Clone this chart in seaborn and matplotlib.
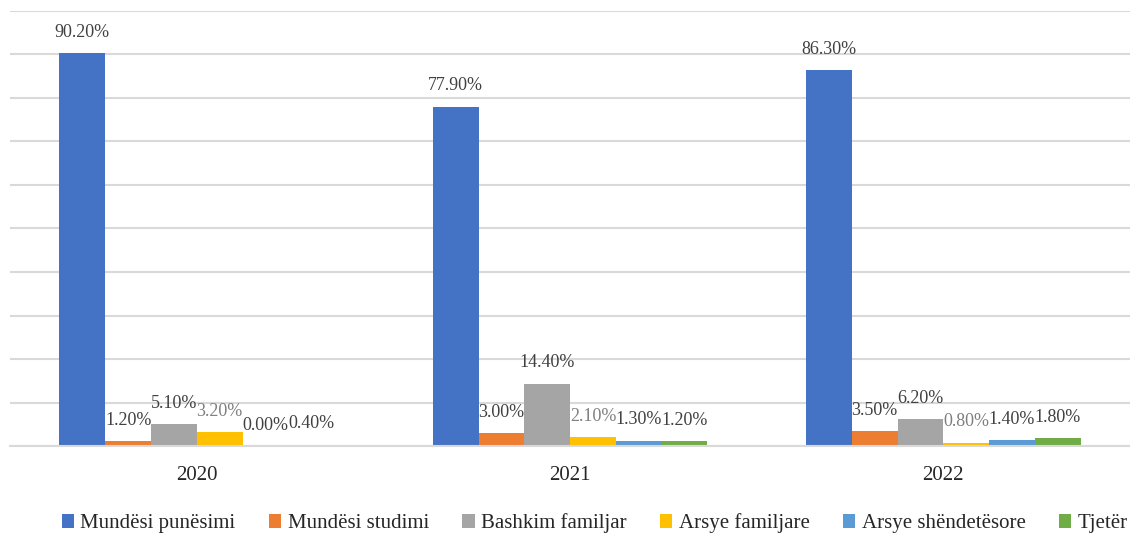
import matplotlib
matplotlib.use("Agg")
import matplotlib.pyplot as plt
import seaborn as sns
import pandas as pd

years = ["2020", "2021", "2022"]
series = ["Mundësi punësimi", "Mundësi studimi", "Bashkim familjar",
          "Arsye familjare", "Arsye shëndetësore", "Tjetër"]
punesimi = [90.2, 77.9, 86.3]
studimi = [1.2, 3.0, 3.5]
bashkim = [5.1, 14.4, 6.2]
arsye_fam = [3.2, 2.1, 0.8]
shendet = [0.0, 1.3, 1.4]
tjeter = [0.4, 1.2, 1.8]
values = [punesimi, studimi, bashkim, arsye_fam, shendet, tjeter]
colors = ["#4472C4", "#ED7D31", "#A5A5A5", "#FFC000", "#5B9BD5", "#70AD47"]
label_colors = ["#404040", "#404040", "#404040", "#7f7f7f", "#404040", "#404040"]

rows = []
for s, vals in zip(series, values):
    for y, v in zip(years, vals):
        rows.append({"Year": y, "Series": s, "Value": v})
df = pd.DataFrame(rows)

sns.set_theme(style="white")
plt.rcParams['font.family'] = ['Liberation Serif', 'DejaVu Serif']

fig = plt.figure(figsize=(11.3, 5.37), dpi=100)
ax = fig.add_axes([0.009, 0.169, 0.991, 0.811])
sns.barplot(data=df, x="Year", y="Value", hue="Series", hue_order=series,
            order=years, palette=colors, saturation=1, width=0.736, gap=0,
            linewidth=0, ax=ax, legend=True)

ax.set_ylim(0, 100)
ax.set_yticks(range(0, 101, 10))
ax.set_yticklabels([])
ax.yaxis.grid(True, color="#d9d9d9", linewidth=1.5)
ax.set_axisbelow(True)
for sp in ["left", "right", "top"]:
    ax.spines[sp].set_visible(False)
ax.spines["bottom"].set_color("#d9d9d9")
ax.spines["bottom"].set_linewidth(1.5)
ax.set_xlabel("")
ax.set_ylabel("")
ax.tick_params(axis="x", length=0, labelsize=15, labelcolor="#262626", pad=14)
ax.tick_params(axis="y", length=0)
ax.set_xlim(-0.5, 2.5)

for cont, lc in zip(ax.containers, label_colors):
    ax.bar_label(cont, fmt="%.2f%%", padding=9, fontsize=13, color=lc)

handles, labels = ax.get_legend_handles_labels()
ax.legend(handles, labels, loc="center", bbox_to_anchor=(0.522, -0.177),
          ncol=6, frameon=False, fontsize=15, handlelength=0.6,
          handleheight=0.6, handletextpad=0.3, columnspacing=1.6,
          borderaxespad=0, borderpad=0, labelcolor="#262626")

fig.savefig("out.png", dpi=100)
